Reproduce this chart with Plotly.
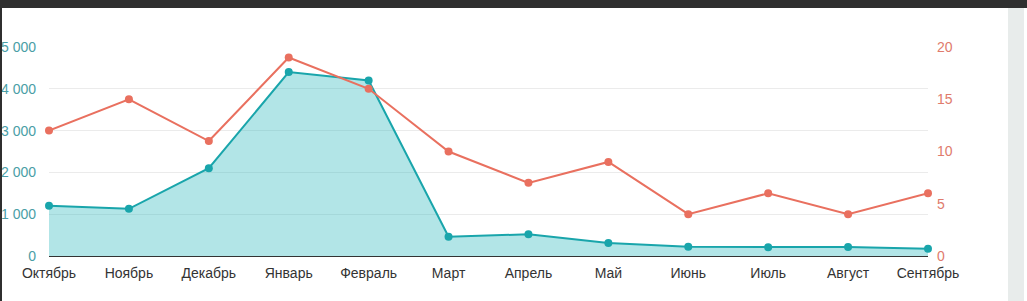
import plotly.graph_objects as go

months = ["Октябрь", "Ноябрь", "Декабрь", "Январь", "Февраль", "Март",
          "Апрель", "Май", "Июнь", "Июль", "Август", "Сентябрь"]
teal_values = [1200, 1130, 2100, 4400, 4200, 460, 520, 310, 220, 210, 215, 175]
red_values = [12, 15, 11, 19, 16, 10, 7, 9, 4, 6, 4, 6]

left_tickvals = [0, 1000, 2000, 3000, 4000, 5000]
left_ticktext = ["0", "1 000", "2 000", "3 000", "4 000", "5 000"]
right_tickvals = [0, 5, 10, 15, 20]

TEAL = "#19a5ab"
RED = "#e9705f"
FONT = "Arial, Liberation Sans, sans-serif"

W, H = 1027, 301
ML, MR, MT, MB = 49, 99, 47, 45

fig = go.Figure()
fig.add_trace(go.Scatter(
    x=months, y=teal_values, mode="lines+markers",
    line=dict(color=TEAL, width=2), marker=dict(color=TEAL, size=8),
    fill="tozeroy", fillcolor="rgba(30,180,186,0.34)",
    cliponaxis=False, yaxis="y", showlegend=False))
fig.add_trace(go.Scatter(
    x=months, y=red_values, mode="lines+markers",
    line=dict(color=RED, width=2), marker=dict(color=RED, size=8),
    cliponaxis=False, yaxis="y2", showlegend=False))


def px_rect(x0, y0, x1, y1, color):
    pw, ph = W - ML - MR, H - MT - MB
    return dict(type="rect", xref="x domain", yref="y domain",
                x0=(x0 - ML) / pw, x1=(x1 - ML) / pw,
                y0=(H - MB - y1) / ph, y1=(H - MB - y0) / ph,
                fillcolor=color, line=dict(width=0), layer="above")


fig.update_layout(
    width=W, height=H,
    margin=dict(l=ML, r=MR, t=MT, b=MB),
    paper_bgcolor="white", plot_bgcolor="white",
    font=dict(family=FONT, size=14, color="#333"),
    xaxis=dict(type="category", range=[0, 11], showgrid=False, automargin=False,
               showline=True, linecolor="#333", linewidth=1,
               ticks="", tickfont=dict(size=14, color="#333"),
               ticklabelstandoff=4, zeroline=False),
    yaxis=dict(range=[0, 5000], tickvals=left_tickvals, ticktext=left_ticktext,
               showgrid=True, gridcolor="#ebebeb", gridwidth=1, automargin=False,
               zeroline=False, showline=False, ticks="",
               tickfont=dict(size=14, color="#4a9ea6"), ticklabelstandoff=12),
    yaxis2=dict(range=[0, 20], tickvals=right_tickvals, overlaying="y",
                side="right", showgrid=False, zeroline=False, showline=False,
                automargin=False, ticks="",
                tickfont=dict(size=14, color="#e07b6c"), ticklabelstandoff=8),
    shapes=[
        px_rect(0, 0, 1027, 8, "#2f2f2f"),
        px_rect(0, 0, 2, 301, "#2f2f2f"),
        px_rect(1008, 8, 1024, 301, "#e8eceb"),
    ],
)

fig.write_html("out.html")
